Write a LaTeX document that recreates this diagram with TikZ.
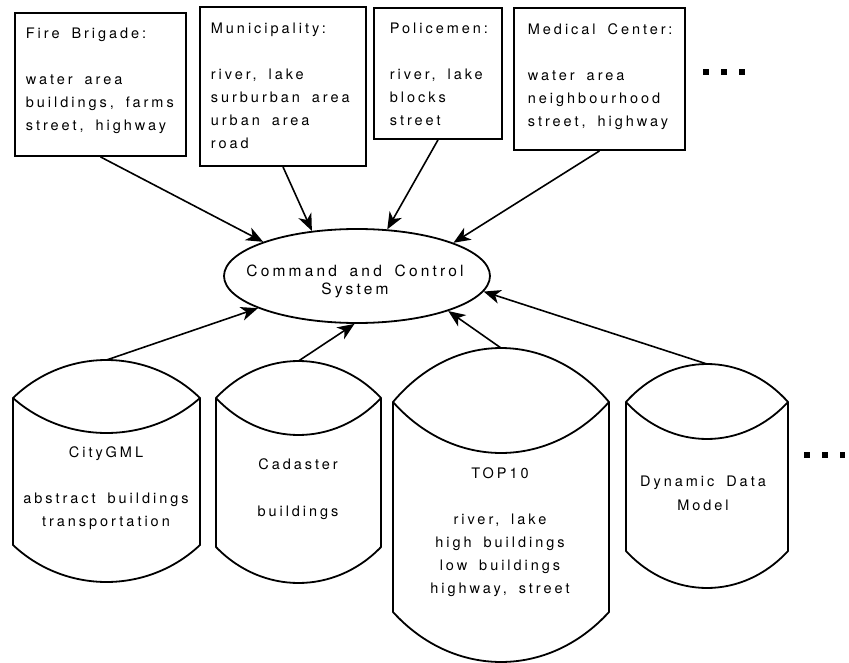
\documentclass[tikz,border=0pt]{standalone}
\usepackage{fontspec}
\setmainfont[LetterSpace=20.5,WordSpace=1.7]{TeX Gyre Heros}
\usetikzlibrary{shapes.geometric,arrows.meta}
\newcommand\dbshape[7]{%
  \draw[line join=round] ({#1},{#4}) .. controls ({#1+0.28*(#2-#1)},{#4-1.333*(#4-#3)}) and ({#2-0.28*(#2-#1)},{#4-1.333*(#4-#3)}) .. ({#2},{#4}) -- ({#2},{#6}) .. controls ({#2-0.28*(#2-#1)},{#6+1.333*(#7-#6)}) and ({#1+0.28*(#2-#1)},{#6+1.333*(#7-#6)}) .. ({#1},{#6}) -- cycle;
  \draw ({#1},{#4}) .. controls ({#1+0.28*(#2-#1)},{#4+1.333*(#5-#4)}) and ({#2-0.28*(#2-#1)},{#4+1.333*(#5-#4)}) .. ({#2},{#4});
}
\begin{document}
\begin{tikzpicture}[x=1pt,y=-1pt,line width=1.8pt,
  box/.style={draw,rectangle,inner sep=0pt},
  btext/.style={anchor=north west,inner sep=0pt,align=left,font=\fontsize{14.5}{23}\selectfont},
  ctext/.style={anchor=north,inner sep=0pt,align=center,font=\fontsize{14.5}{23}\selectfont},
  arr/.style={-{Stealth[length=17pt,width=14pt,inset=5pt]},line width=1.6pt},
  dot/.style={fill=black}]
\useasboundingbox (0,0) rectangle (849,663);
% source boxes
\node[box,minimum width=171pt,minimum height=143pt] (fb) at (100.5,84.5) {};
\node[btext] (fbt) at (25,27.5) {Fire Brigade:\\[23pt]water area\\buildings, farms\\street, highway};
\node[box,minimum width=166pt,minimum height=159pt] (muni) at (283,86.5) {};
\node[btext] (munit) at (210,22) {Municipality:\\[23pt]river, lake\\surburban area\\urban area\\road};
\node[box,minimum width=128pt,minimum height=131pt] (pol) at (438,73.5) {};
\node[btext] (polt) at (389,22) {Policemen:\\[23pt]river, lake\\blocks\\street};
\node[box,minimum width=171pt,minimum height=142pt] (med) at (599.5,79) {};
\node[btext] (medt) at (527,23) {Medical Center:\\[23pt]water area\\neighbourhood\\street, highway};
\foreach \x in {703,721,739} \fill (\x,69) rectangle ++(5.5,6);
% central ellipse
\node[ellipse,draw,minimum width=266pt,minimum height=94pt,inner sep=0pt] (ccs) at (357,276) {};
\node[ctext,font=\fontsize{15.5}{17.6}\selectfont] (ccst) at (355,264) {Command and Control\\System};
% databases
\dbshape{13}{200}{360}{398}{433}{545}{582}
\coordinate (cgtop) at (106.5,360);
\node[ctext] (cgt) at (106,446) {CityGML\\[23pt]abstract buildings\\transportation};
\dbshape{216}{381}{361}{398}{435}{547}{583}
\coordinate (catop) at (298.5,361);
\node[ctext] (cat) at (298,458) {Cadaster\\[24pt]buildings};
\dbshape{393}{609}{348}{402}{453}{612}{662}
\coordinate (tptop) at (501,348);
\node[ctext] (tpt) at (500,467) {TOP10\\[23pt]river, lake\\high buildings\\low buildings\\highway, street};
\dbshape{626}{788}{364}{402}{439}{551}{588}
\coordinate (ddtop) at (707,364);
\node[ctext,font=\fontsize{14.5}{24}\selectfont] (ddt) at (703,475) {Dynamic Data\\Model};
\foreach \x in {804,822,839.5} \fill (\x,452) rectangle ++(5.5,6);
% connectors
\draw[arr] (fb.south) -- (ccs.160.3);
\draw[arr] (muni.south) -- (ccs.135.6);
\draw[arr] (pol.south) -- (ccs.57.5);
\draw[arr] (med.south) -- (ccs.19.2);
\draw[arr] (cgtop) -- (ccs.198.6);
\draw[arr] (catop) -- (ccs.267.6);
\draw[arr] (tptop) -- (ccs.339.8);
\draw[arr] (ddtop) -- (ccs.353);
\end{tikzpicture}
\end{document}
